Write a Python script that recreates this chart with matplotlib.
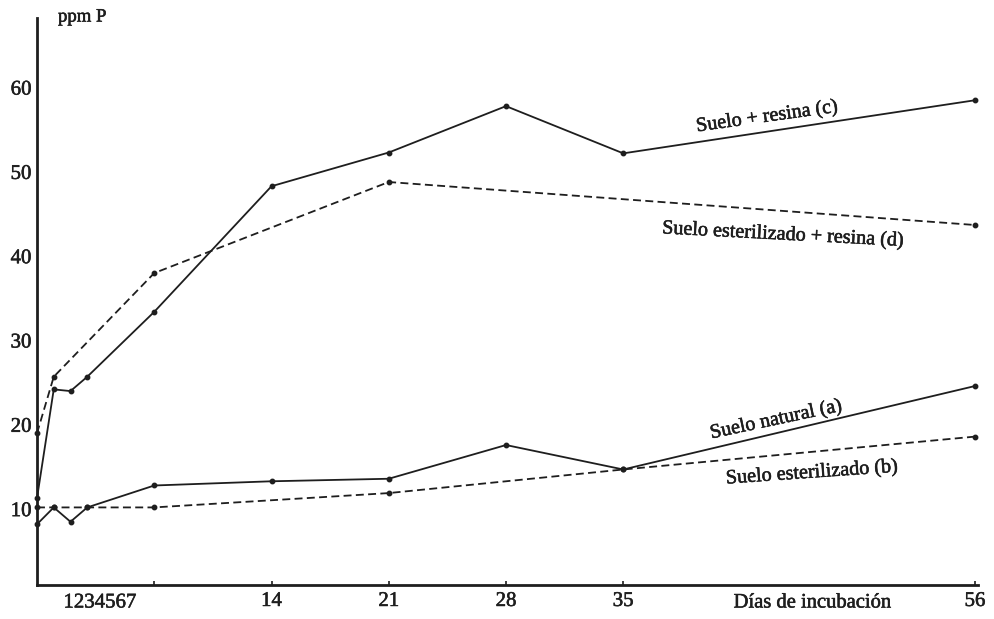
import matplotlib
matplotlib.use("Agg")
import matplotlib.pyplot as plt
import matplotlib.patheffects as pe

# ---- data ----
days_a = [0, 1, 2, 3, 7, 14, 21, 28, 35, 56]
suelo_natural = [8.2, 10.2, 8.5, 10.2, 12.8, 13.3, 13.6, 17.6, 14.7, 24.6]

days_b = [0, 1, 3, 7, 21, 35, 56]
suelo_esterilizado = [10.2, 10.2, 10.2, 10.2, 11.9, 14.7, 18.6]

days_c = [0, 1, 2, 3, 7, 14, 21, 28, 35, 56]
suelo_resina = [11.3, 24.2, 24.0, 25.7, 33.4, 48.3, 52.3, 57.8, 52.2, 58.5]

days_d = [0, 1, 7, 21, 56]
suelo_est_resina = [19.0, 25.7, 38.0, 48.8, 43.7]

x_ticks = [7, 14, 21, 28, 35, 56]
x_tick_labels = ["", "14", "21", "28", "35", "56"]
y_ticks = [10, 20, 30, 40, 50, 60]

# ---- style ----
W, H = 994, 619
ink = "#1e1e1e"
serif = ["Liberation Serif", "DejaVu Serif"]
plt.rcParams["font.family"] = serif
heavy = [pe.withStroke(linewidth=0.4, foreground=ink)]

fig = plt.figure(figsize=(W / 100, H / 100), dpi=100)
fig.patch.set_facecolor("white")
ax = fig.add_axes([37 / W, (H - 585) / H, (978 - 37) / W, (585 - 18) / H])
ax.set_facecolor("white")

ax.set_xlim(0, (978 - 37) / 16.75)
ax.set_ylim((593.4 - 585) / 8.43, (593.4 - 18) / 8.43)

dash = (4.4, 2.4)
kw = dict(color=ink, lw=1.3, marker="o", ms=3.2, clip_on=False)
ax.plot(days_a, suelo_natural, ls="-", **kw)
ax.plot(days_b, suelo_esterilizado, ls=(0, dash), **kw)
ax.plot(days_c, suelo_resina, ls="-", **kw)
ax.plot(days_d, suelo_est_resina, ls=(0, dash), **kw)

for s in ["top", "right"]:
    ax.spines[s].set_visible(False)
for s in ["left", "bottom"]:
    ax.spines[s].set_color(ink)
    ax.spines[s].set_linewidth(2.0)

ax.set_xticks(x_ticks)
ax.set_xticklabels(x_tick_labels)
ax.set_yticks(y_ticks)
ax.set_yticklabels([str(v) for v in y_ticks])
ax.tick_params(axis="x", direction="in", length=3, width=1.2, color=ink,
               labelsize=15, labelcolor=ink, pad=5)
ax.tick_params(axis="y", length=0, labelsize=15, labelcolor=ink, pad=4)
for lab in ax.get_xticklabels() + ax.get_yticklabels():
    lab.set_path_effects(heavy)

def px(x, y):
    return ((x - 37) / 16.75, (593.4 - y) / 8.43)

tk = dict(color=ink, fontsize=14.5, ha="center", va="center",
          rotation_mode="anchor", path_effects=heavy)
ax.text(*px(767, 117), "Suelo + resina (c)", rotation=8, **tk)
ax.text(*px(783, 235), "Suelo esterilizado + resina (d)", rotation=-3, **tk)
ax.text(*px(776, 420), "Suelo natural (a)", rotation=12, **tk)
ax.text(*px(812, 473), "Suelo esterilizado (b)", rotation=4, **tk)

fig.text(58 / W, 1 - 17 / H, "ppm P", color=ink, fontsize=13.5, ha="left",
         va="center", path_effects=heavy)
fig.text(100 / W, 1 - 603 / H, "1234567", color=ink, fontsize=15,
         ha="center", va="center", path_effects=heavy)
fig.text(812 / W, 1 - 603 / H, "Días de incubación", color=ink, fontsize=14.8,
         ha="center", va="center", path_effects=heavy)

fig.savefig("out.png", dpi=100, facecolor="white")
